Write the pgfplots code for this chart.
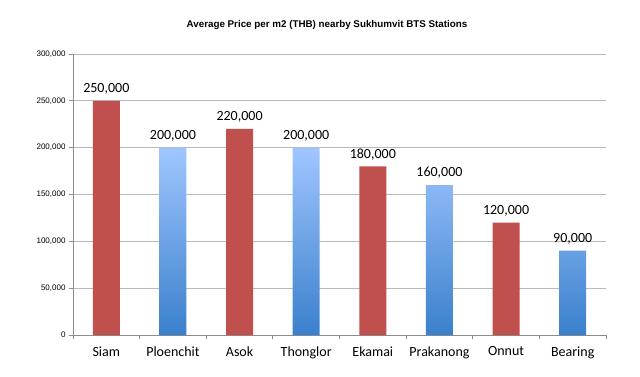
\documentclass[border=0pt]{standalone}
\usepackage{fontspec}
\setmainfont{Liberation Sans}
\newfontfamily\carlito{Carlito}
\usepackage{pgfplots}
\pgfplotsset{compat=1.18}
\definecolor{barred}{RGB}{192,80,77}
\definecolor{bluetop}{RGB}{160,198,255}
\definecolor{bluebot}{RGB}{58,128,204}
\definecolor{axisgray}{RGB}{140,140,140}
\definecolor{gridgray}{RGB}{185,185,185}
\begin{document}
\begin{tikzpicture}
\useasboundingbox (0,0) rectangle (640bp,-377bp);
\node[font=\bfseries\fontsize{9.8bp}{12bp}\selectfont] at (327bp,-25bp) {Average Price per m2 (THB) nearby Sukhumvit BTS Stations};
\begin{axis}[
  at={(73bp,-335bp)}, anchor=south west,
  scale only axis, width=533bp, height=281bp,
  xmin=-0.5, xmax=7.5, ymin=0, ymax=300000,
  ytick={0,50000,...,300000},
  scaled y ticks=false,
  yticklabel style={font=\fontsize{8bp}{9bp}\selectfont, /pgf/number format/.cd, fixed, 1000 sep={,}, assume math mode=true},
  axis lines*=left,
  axis line style={draw=axisgray, line width=0.8pt},
  ymajorgrids, grid style={draw=gridgray, line width=0.8pt},
  tick align=outside,
  major tick length=4bp,
  tick style={draw=axisgray, line width=0.8pt},
  xtick={-0.5,0.5,...,7.5},
  xticklabels={},
  extra x ticks={0,1,2,3,4,5,6,7},
  extra x tick labels={Siam,Ploenchit,Asok,Thonglor,Ekamai,Prakanong,Onnut,Bearing},
  extra x tick style={tick style={draw=none}, xticklabel style={font=\carlito\fontsize{14bp}{16bp}\selectfont, yshift=-4bp}},
  clip=false,
  nodes near coords,
  point meta=explicit symbolic,
  every node near coord/.append style={font=\carlito\fontsize{14bp}{16bp}\selectfont, text=black, yshift=3bp},
]
\addplot[ybar, bar width=27bp, bar shift=0pt, fill=barred, draw=none] table[meta=label] {
x y label
0 250000 250,000
2 220000 220,000
4 180000 180,000
6 120000 120,000
};
\addplot[ybar, bar width=27bp, bar shift=0pt, top color=bluetop, bottom color=bluebot, draw=none] table[meta=label] {
x y label
1 200000 200,000
3 200000 200,000
5 160000 160,000
7 90000 90,000
};
\end{axis}
\end{tikzpicture}
\end{document}
